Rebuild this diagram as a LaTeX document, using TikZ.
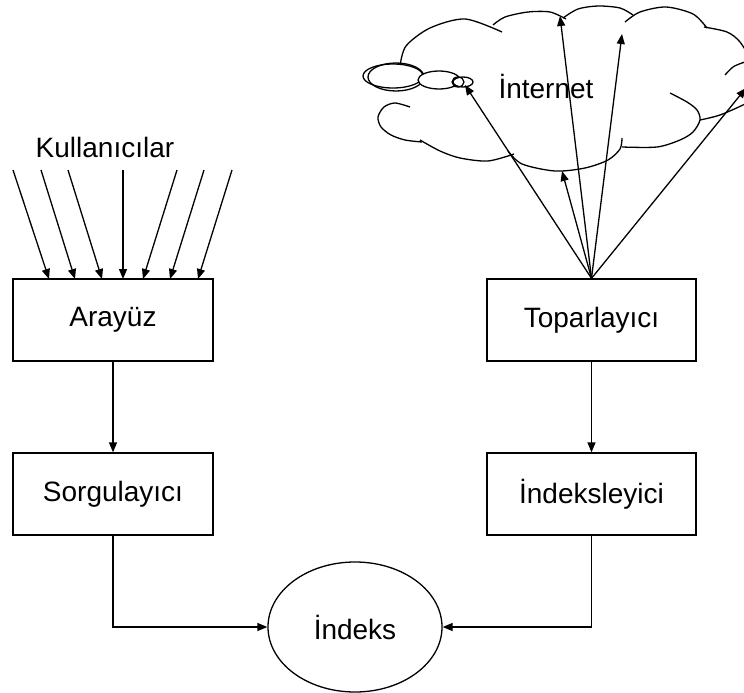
\documentclass[tikz,border=0pt]{standalone}
\usepackage{fontspec}
\setmainfont{Liberation Sans}
\usetikzlibrary{arrows.meta,shapes.geometric}
\begin{document}
\begin{tikzpicture}[x=1pt,y=-1pt,
  every node/.style={font=\fontsize{28}{34}\selectfont},
  stagebox/.style={draw,line width=1.3pt,rectangle,minimum height=82pt,inner sep=0pt},
  store/.style={draw,line width=1.3pt,ellipse,minimum width=174pt,minimum height=130pt,inner sep=0pt},
  flow/.style={line width=1.3pt,-{Triangle[length=10pt,width=8pt]}},
  cloudline/.style={line width=1.3pt},
  bubble/.style={line width=1.3pt,fill=white}]
\useasboundingbox (0,0) rectangle (744,693);

% processing stages
\node[stagebox,minimum width=200pt] (arayuz) at (113,320) {Arayüz};
\node[stagebox,minimum width=200pt] (sorgu) at (113,494) {Sorgulayıcı};
\node[stagebox,minimum width=209pt] (topar) at (591.5,320) {Toparlayıcı};
\node[stagebox,minimum width=209pt] (indeksleyici) at (591.5,494) {İndeksleyici};
\node[store] (indeks) at (355,627) {İndeks};

% users
\node[anchor=base] (kullanici) at (105,157) {Kullanıcılar};
\foreach \i/\sx/\ex in {1/13/49,2/41/75,3/68/102,4/123/123,5/177/143,6/204/170,7/232/198}{
  \coordinate (us\i) at (\sx,170);
  \coordinate (ue\i) at (\ex,279);
  \draw[flow] (us\i) -- (ue\i);
}

% cloud outline
\draw[cloudline] plot[smooth] coordinates {(502,32) (465,19) (430,28) (406,46) (400,66)};
\draw[cloudline] plot[smooth] coordinates {(410,107) (395,103) (384,107) (378,117) (381,127) (391,135) (405,140) (422,142)};
\draw[cloudline] plot[smooth] coordinates {(420,140) (440,151) (460,158) (488,161) (514,154)};
\draw[cloudline] plot[smooth] coordinates {(508,151) (522,164) (555,171) (585,168) (608,160) (620,149) (622,138)};
\draw[cloudline] plot[smooth] coordinates {(622,147) (657,147) (680,140) (693,132) (700,120) (697,110) (687,102) (670,93)};
\draw[cloudline] plot[smooth] coordinates {(700,120) (720,115) (745,104) (760,95)};
\draw[cloudline] plot[smooth] coordinates {(725,75) (733,67) (742,63) (752,60)};
\draw[cloudline] plot[smooth] coordinates {(493,25) (505,17) (528,12) (550,12) (566,19)};
\draw[cloudline] plot[smooth] coordinates {(563,18) (578,9) (598,6) (620,8) (633,15)};
\draw[cloudline] plot[smooth] coordinates {(625,22) (640,12) (666,7) (693,14) (707,28)};
\draw[cloudline] plot[smooth] coordinates {(704,27) (727,32) (740,42) (750,60) (752,80) (748,100)};

% thought bubbles
\draw[bubble] (393,76) ellipse [x radius=30, y radius=12];
\draw[line width=1.3pt] (396,77) ellipse [x radius=28, y radius=14];
\draw[bubble] (439,80) ellipse [x radius=21, y radius=9];
\draw[bubble] (463,82) ellipse [x radius=10, y radius=5];
\draw[line width=1.3pt] (458,82) ellipse [x radius=6, y radius=5];

\node[anchor=base] (internet) at (546,98) {İnternet};

% crawler targets
\coordinate (c1) at (465,85);
\coordinate (c2) at (562,171);
\coordinate (c3) at (560,16);
\coordinate (c4) at (622,34);
\coordinate (c5) at (746,88);
\foreach \c in {c1,c2,c3,c4,c5}{
  \draw[flow] (topar.north) -- (\c);
}

% pipeline connectors
\draw[flow] (arayuz) -- (sorgu);
\draw[flow] (topar) -- (indeksleyici);
\draw[flow] (sorgu.south) |- (indeks.west);
\draw[flow] (indeksleyici.south) |- (indeks.east);
\end{tikzpicture}
\end{document}
